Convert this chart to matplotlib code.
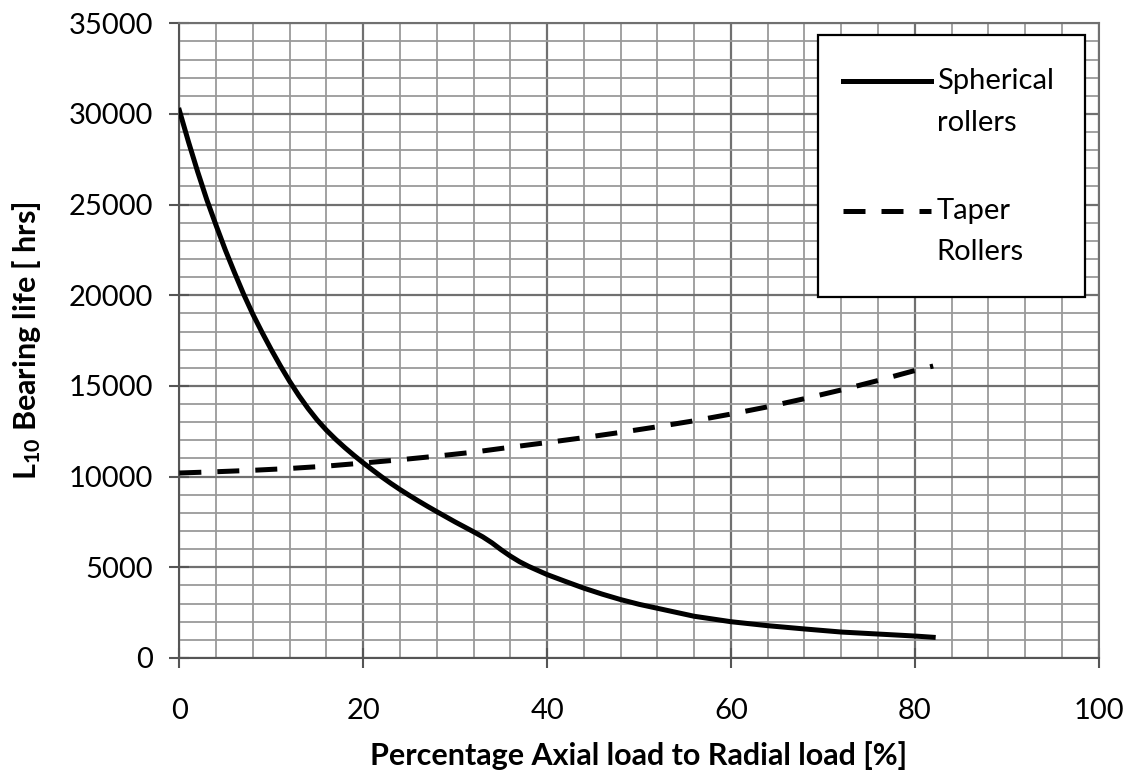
import matplotlib
matplotlib.use("Agg")
import matplotlib.pyplot as plt
from matplotlib.ticker import MultipleLocator
from matplotlib.patches import Rectangle

plt.rcParams['font.family'] = ['Lato', 'DejaVu Sans']
plt.rcParams['mathtext.default'] = 'regular'

# spherical roller bearing life vs axial load share
x_spherical = [0, 1, 2, 3, 4, 5, 6, 7, 8, 9, 10, 11, 12, 13, 14, 15, 16, 17,
               18, 19, 20, 21, 22, 23, 24, 25, 26, 27, 28, 30, 32, 33, 34, 35,
               36, 37, 38, 40, 42, 44, 46, 48, 50, 52, 56, 60, 64, 68, 72, 76,
               80, 82]
y_spherical = [30200, 28450, 26800, 25250, 23850, 22500, 21250, 20050, 18950,
               17950, 17000, 16100, 15250, 14470, 13760, 13120, 12560, 12060,
               11600, 11170, 10760, 10370, 9990, 9630, 9290, 8970, 8660, 8360,
               8070, 7500, 6960, 6680, 6350, 5970, 5620, 5310, 5050, 4600,
               4220, 3850, 3520, 3220, 2960, 2740, 2300, 2000, 1780, 1600,
               1430, 1320, 1210, 1140]

# taper roller bearing life
x_taper = [0, 4, 8, 12, 16, 20, 24, 28, 32, 36, 40, 44, 48, 52, 56, 60, 64,
           68, 72, 76, 80, 82]
y_taper = [10200, 10270, 10350, 10450, 10580, 10750, 10930, 11130, 11350,
           11620, 11880, 12150, 12440, 12750, 13080, 13450, 13850, 14300,
           14780, 15300, 15850, 16100]

labels = ['Spherical\nrollers', 'Taper\nRollers']

fig = plt.figure(figsize=(11.28, 7.71), dpi=100)
ax = fig.add_axes([0.159, 0.1466, 0.815, 0.8232])

ax.plot(x_spherical, y_spherical, color='black', lw=3.6,
        solid_joinstyle='round', zorder=3)
ax.plot(x_taper, y_taper, color='black', lw=3.6, dashes=(4.4, 3.2), zorder=3)

ax.set_xlim(0, 100)
ax.set_ylim(0, 35000)
ax.xaxis.set_major_locator(MultipleLocator(20))
ax.xaxis.set_minor_locator(MultipleLocator(4))
ax.yaxis.set_major_locator(MultipleLocator(5000))
ax.yaxis.set_minor_locator(MultipleLocator(1000))

ax.grid(which='major', color='#707070', lw=1.6)
ax.grid(which='minor', color='#9a9a9a', lw=1.3)
ax.set_axisbelow(True)

ax.tick_params(which='major', direction='inout', length=14, width=1.5,
               color='#555555', labelsize=21, pad=12)
ax.tick_params(which='minor', length=0)
ax.tick_params(axis='x', pad=22)
for s in ax.spines.values():
    s.set_color('#707070')
    s.set_linewidth(1.5)
ax.spines['left'].set_color('#555555')
ax.spines['bottom'].set_color('#555555')

ax.set_xlabel('Percentage Axial load to Radial load [%]', fontsize=22,
              fontweight='bold', labelpad=12)
ax.set_ylabel(r'L$_{10}$ Bearing life [ hrs]', fontsize=22,
              fontweight='bold', labelpad=18)

# legend box drawn by hand so the handle sits on the first text line
ax.add_patch(Rectangle((0.695, 0.569), 0.29, 0.413, transform=ax.transAxes,
                       facecolor='white', edgecolor='black', lw=1.6, zorder=5))
ax.plot([0.7214, 0.818], [0.909, 0.909], transform=ax.transAxes,
        color='black', lw=3.6, zorder=6)
ax.plot([0.7214, 0.818], [0.705, 0.705], transform=ax.transAxes,
        color='black', lw=3.6, dashes=(4.4, 3.2), zorder=6)
for lab, ytop in zip(labels, [0.909, 0.705]):
    first, second = lab.split('\n')
    ax.text(0.824, ytop, first, transform=ax.transAxes, fontsize=21,
            va='center', ha='left', zorder=7)
    ax.text(0.824, ytop - 0.0655, second, transform=ax.transAxes,
            fontsize=21, va='center', ha='left', zorder=7)

fig.savefig('out.png', dpi=100)
